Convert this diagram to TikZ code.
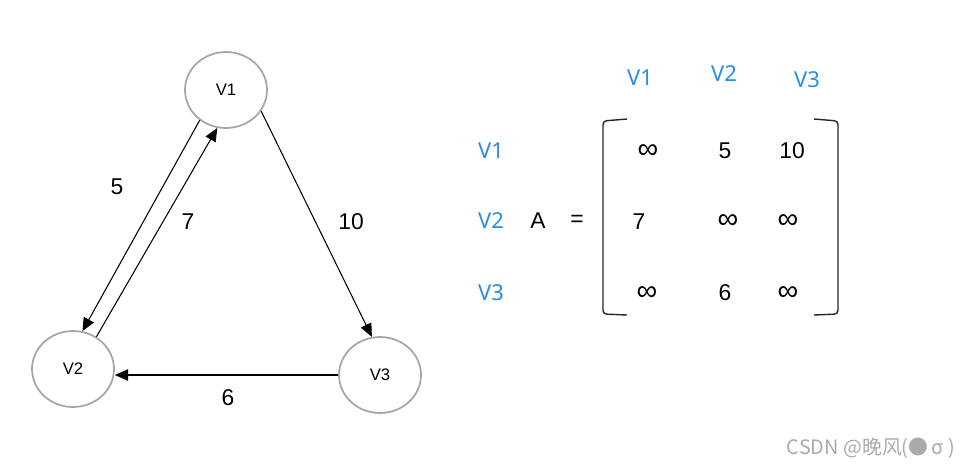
\documentclass[tikz,border=0pt]{standalone}
\usepackage{fontspec}
\setmainfont{Liberation Sans}
\newfontfamily\headfont{Noto Sans}
\newfontfamily\cjkfont{Noto Sans CJK SC}
\usepackage{tikz}
\usetikzlibrary{arrows.meta, positioning, shapes.geometric}

\begin{document}
\begin{tikzpicture}[x=0.02cm, y=-0.02cm,
  vertex/.style={ellipse, draw=ring, line width=1pt, minimum width=1.64cm, minimum height=1.52cm, inner sep=0pt, font=\fontsize{9.5}{11}\selectfont},
  arc/.style={line width=0.6pt, -{Triangle[length=7.5pt, width=6.5pt]}},
  weight/.style={font=\fontsize{13}{15}\selectfont},
  head/.style={text=labelblue, font=\headfont\fontsize{12.5}{15}\selectfont},
  entry/.style={font=\fontsize{13}{15}\selectfont},
  inf/.style={font=\fontsize{16.5}{18}\selectfont},
  brack/.style={line width=0.8pt, draw=black!85, rounded corners=2pt}]
\definecolor{ring}{RGB}{166,166,166}
\definecolor{labelblue}{RGB}{45,140,225}
\definecolor{mark}{RGB}{170,170,170}
\useasboundingbox (0,0) rectangle (969,468);

% Vertices
\node[vertex] (v1) at (226,90) {V1};
\node[vertex] (v2) at (73,369) {V2};
\node[vertex] (v3) at (380,375) {V3};

% Arcs
\draw[arc] (v1.229) -- (v2.76);
\draw[arc] (v2.54) -- (v1.257);
\draw[arc] (v1.329) -- (v3.102);
\draw[arc] (v3.west) -- (v2.east |- v3.west);

% Weights
\node[weight] (w12) at (117,187) {5};
\node[weight] (w21) at (188,222) {7};
\node[weight] (w13) at (351,222) {10};
\node[weight] (w32) at (228,398) {6};

% ---- ADJACENCY MATRIX ----
\node[head] (c1) at (640,78) {V1};
\node[head] (c2) at (724,74) {V2};
\node[head] (c3) at (807,80) {V3};
\node[head] (r1) at (491,151) {V1};
\node[head] (r2) at (491,221) {V2};
\node[head] (r3) at (491,293) {V3};

\node[entry] (a) at (538,221) {A};
\node[entry] (eq) at (577,221) {=};

% Brackets
\draw[brack] (627,119) -- (603,121) -- (603,314) -- (627,315);
\draw[brack] (814,119) -- (838,121) -- (838,314) -- (814,315);

% Entries
\node[inf] (m11) at (648,152) {∞};
\node[entry] (m12) at (725,151) {5};
\node[entry] (m13) at (792,151) {10};
\node[entry] (m21) at (639,222) {7};
\node[inf] (m22) at (728,222) {∞};
\node[inf] (m23) at (788,222) {∞};
\node[inf] (m31) at (647,294) {∞};
\node[entry] (m32) at (725,293) {6};
\node[inf] (m33) at (788,294) {∞};

% Watermark
\node[text=mark, font=\cjkfont\fontsize{11.3}{13}\selectfont] (wm) at (871,448) {CSDN @晚风(●\,σ )};

\end{tikzpicture}
\end{document}
